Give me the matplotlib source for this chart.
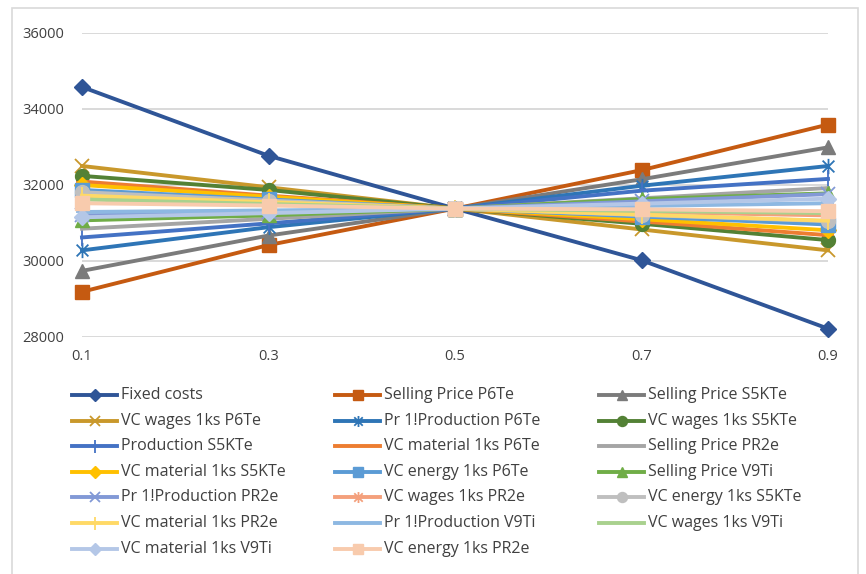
import matplotlib.pyplot as plt
from matplotlib.lines import Line2D
from matplotlib.patches import Rectangle
from matplotlib.path import Path

W, H = 866, 574

# sensitivity levels on the category axis
levels = ["0.1", "0.3", "0.5", "0.7", "0.9"]
y_ticks = [28000, 30000, 32000, 34000, 36000]

fixed_costs = [34580, 32770, 31380, 30020, 28220]
sp_p6te = [29190, 30420, 31380, 32390, 33590]
sp_s5kte = [29740, 30670, 31380, 32150, 32990]
wages_p6te = [32500, 31940, 31380, 30830, 30280]
prod_p6te = [30280, 30890, 31380, 31980, 32500]
wages_s5kte = [32240, 31870, 31380, 30980, 30550]
prod_s5kte = [30620, 30990, 31380, 31850, 32160]
material_p6te = [32090, 31720, 31380, 31040, 30680]
sp_pr2e = [30850, 31110, 31380, 31650, 31920]
material_s5kte = [32000, 31690, 31380, 31100, 30810]
energy_p6te = [31870, 31620, 31380, 31170, 30960]
sp_v9ti = [31070, 31200, 31380, 31630, 31780]
prod_pr2e = [31200, 31290, 31380, 31570, 31760]
wages_pr2e = [31650, 31520, 31380, 31290, 31200]
energy_s5kte = [31810, 31590, 31380, 31210, 31050]
material_pr2e = [31720, 31550, 31380, 31220, 31060]
prod_v9ti = [31290, 31330, 31380, 31450, 31520]
wages_v9ti = [31620, 31500, 31380, 31320, 31260]
material_v9ti = [31150, 31260, 31380, 31510, 31640]
energy_pr2e = [31520, 31460, 31380, 31360, 31310]

series = [
    ("Fixed costs", fixed_costs),
    ("Selling Price P6Te", sp_p6te),
    ("Selling Price S5KTe", sp_s5kte),
    ("VC wages 1ks P6Te", wages_p6te),
    ("Pr 1!Production P6Te", prod_p6te),
    ("VC wages 1ks S5KTe", wages_s5kte),
    ("Production S5KTe", prod_s5kte),
    ("VC material 1ks P6Te", material_p6te),
    ("Selling Price PR2e", sp_pr2e),
    ("VC material 1ks S5KTe", material_s5kte),
    ("VC energy 1ks P6Te", energy_p6te),
    ("Selling Price V9Ti", sp_v9ti),
    ("Pr 1!Production PR2e", prod_pr2e),
    ("VC wages 1ks PR2e", wages_pr2e),
    ("VC energy 1ks S5KTe", energy_s5kte),
    ("VC material 1ks PR2e", material_pr2e),
    ("Pr 1!Production V9Ti", prod_v9ti),
    ("VC wages 1ks V9Ti", wages_v9ti),
    ("VC material 1ks V9Ti", material_v9ti),
    ("VC energy 1ks PR2e", energy_pr2e),
]

colors = [
    "#2F5597", "#C55A11", "#7B7B7B", "#C9982B", "#2E75B6", "#538135",
    "#4472C4", "#ED7D31", "#A5A5A5", "#FFC000", "#5B9BD5", "#70AD47",
    "#8299D6", "#F4A07C", "#BFBFBF", "#FFD966", "#8DB8E2", "#A9D18E",
    "#B4C7E7", "#F8CBAD",
]

# office style star: an x with a vertical stroke through it
star = Path([(-1, -1), (1, 1), (-1, 1), (1, -1), (0, -1.3), (0, 1.3)],
            [Path.MOVETO, Path.LINETO] * 3)

marker_cycle = [("D", 8), ("s", 9.5), ("^", 10), ("x", 10), (star, 11),
                ("o", 10), ("|", 13), ("_", 8), (None, 0)]
thin = {"x", "|", "_"}

plt.rcParams["font.family"] = ["Open Sans", "DejaVu Sans"]
text_color = "#404040"

fig = plt.figure(figsize=(W / 100, H / 100), dpi=100)
fig.add_artist(Rectangle((12 / W, -0.05), (858 - 12) / W, 1.05 - 8 / H,
                         transform=fig.transFigure, fill=False,
                         edgecolor="#D9D9D9", linewidth=1.2))

ax = fig.add_axes([82 / W, 1 - 337 / H, (828 - 82) / W, (337 - 33) / H])
x = range(len(levels))


def style(i, scale=1.0):
    m, ms = marker_cycle[i % len(marker_cycle)]
    c = colors[i]
    mew = 1.3 if (isinstance(m, str) and m in thin) or m is star else 1
    return dict(color=c, linewidth=2.8, marker=m, markersize=ms * scale,
                markerfacecolor=c, markeredgecolor=c, markeredgewidth=mew)


for i, (name, vals) in enumerate(series):
    ax.plot(x, vals, clip_on=False, **style(i))

ax.set_xlim(0, len(levels) - 1)
ax.set_ylim(y_ticks[0], y_ticks[-1])
ax.set_xticks(list(x))
ax.set_xticklabels(levels)
ax.set_yticks(y_ticks)
ax.yaxis.grid(True, color="#D9D9D9", linewidth=1.4)
ax.set_axisbelow(True)
for s in ax.spines.values():
    s.set_visible(False)
ax.tick_params(length=0, labelsize=10.5, labelcolor=text_color)
ax.tick_params(axis="y", pad=13)
ax.tick_params(axis="x", pad=9)

# legend laid out row by row in three columns, like the spreadsheet one
col_x = [72, 335, 599]
row_y0, row_step = 395, 25.6
for i, (name, _) in enumerate(series):
    r, c = divmod(i, 3)
    x0 = col_x[c]
    yy = 1 - (row_y0 + r * row_step) / H
    xs = [x0 / W, (x0 + 22.5) / W, (x0 + 45) / W]
    fig.add_artist(Line2D(xs, [yy] * 3, transform=fig.transFigure,
                          markevery=[1], **style(i, scale=0.72)))
    fig.text((x0 + 49) / W, yy, name, va="center", ha="left",
             fontsize=11.5, color=text_color)

fig.savefig("out.png", dpi=100)
